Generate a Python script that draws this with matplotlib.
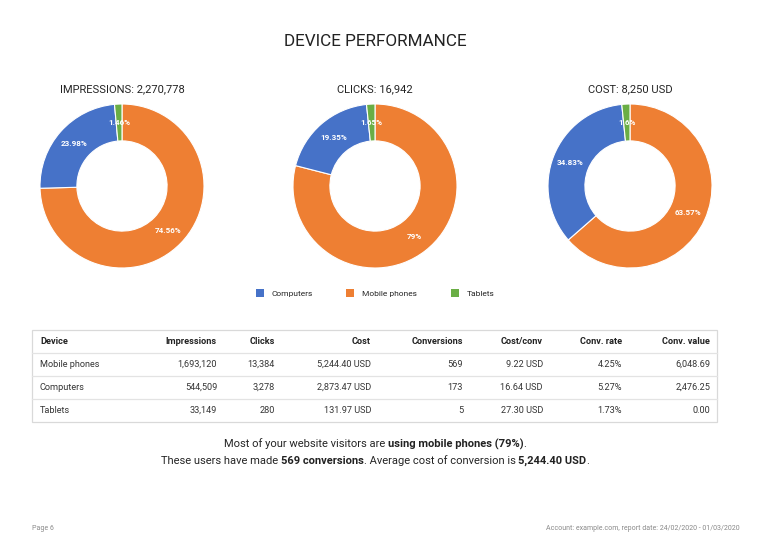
import matplotlib
matplotlib.use("Agg")
from matplotlib import pyplot as plt
from matplotlib import font_manager as fm
from matplotlib.patches import Patch, Rectangle

# use the static Roboto files (the variable one measures text badly)
fm.fontManager.ttflist = [f for f in fm.fontManager.ttflist if 'Roboto[' not in f.fname]
plt.rcParams['font.family'] = ['Roboto', 'DejaVu Sans']

devices = ['Mobile phones', 'Computers', 'Tablets']
impressions = [1693120, 544509, 33149]
clicks = [13384, 3278, 280]
cost = [5244.40, 2873.47, 131.97]
conversions = [569, 173, 5]
cost_per_conv = [9.22, 16.64, 27.30]
conv_rate = [4.25, 5.27, 1.73]
conv_value = [6048.69, 2476.25, 0.00]

colors = {'Mobile phones': '#ee7f33', 'Computers': '#4672c8', 'Tablets': '#6aae45'}
legend_order = ['Computers', 'Mobile phones', 'Tablets']

W, H = 768, 545
CX = 375
fig = plt.figure(figsize=(W / 100, H / 100), dpi=100)
fig.patch.set_facecolor('white')

# background axes in pixel coordinates for texts and the table
bg = fig.add_axes([0, 0, 1, 1], zorder=0)
bg.set_xlim(0, W)
bg.set_ylim(H, 0)
bg.axis('off')

bg.text(CX, 42, 'DEVICE PERFORMANCE', fontsize=12.3, ha='center', va='center', color='#222222')


def fmt_pct(p):
    return f"{p:.2f}".rstrip('0').rstrip('.') + '%'


donuts = [
    ('IMPRESSIONS: ' + f"{sum(impressions):,}", impressions, 122),
    ('CLICKS: ' + f"{sum(clicks):,}", clicks, 375),
    ('COST: ' + f"{round(sum(cost)):,} USD", cost, 630),
]
cy = 186
r = 82
for title, vals, cx in donuts:
    ax = fig.add_axes([(cx - r) / W, 1 - (cy + r) / H, 2 * r / W, 2 * r / H], zorder=2)
    ax.pie(vals, colors=[colors[d] for d in devices], startangle=90, counterclock=False,
           radius=1, wedgeprops=dict(width=0.45, edgecolor='white', linewidth=0.8),
           autopct=lambda p: fmt_pct(p), pctdistance=0.78,
           textprops=dict(color='white', fontsize=5.8, fontweight='bold'))
    ax.set_xlim(-1.0, 1.0)
    ax.set_ylim(-1.0, 1.0)
    ax.set_aspect('equal')
    bg.text(cx, 89, title, fontsize=8, ha='center', va='center', color='#222222')

handles = [Patch(facecolor=colors[d], edgecolor='none', label=d) for d in legend_order]
fig.legend(handles=handles, loc='center', bbox_to_anchor=(CX / W, 1 - 293 / H), ncol=3,
           frameon=False, fontsize=6.0, handlelength=0.96, handleheight=0.96,
           columnspacing=4.0, handletextpad=0.96, labelcolor='#222222')

# table
top, bottom, left, right = 330, 422, 32, 717
row_h = (bottom - top) / 4
bg.add_patch(Rectangle((left, top), right - left, bottom - top, fill=False,
                       edgecolor='#d9d9d9', linewidth=0.9))
for i in range(1, 4):
    bg.plot([left, right], [top + i * row_h] * 2, color='#e3e3e3', linewidth=0.9)

headers = ['Device', 'Impressions', 'Clicks', 'Cost', 'Conversions', 'Cost/conv', 'Conv. rate', 'Conv. value']
col_x = [40, 217, 275, 371, 463, 543, 622, 710]
rows = []
for i, d in enumerate(devices):
    rows.append([d, f"{impressions[i]:,}", f"{clicks[i]:,}", f"{cost[i]:,.2f} USD",
                 f"{conversions[i]:,}", f"{cost_per_conv[i]:.2f} USD",
                 f"{conv_rate[i]:.2f}%", f"{conv_value[i]:,.2f}"])

for j, h in enumerate(headers):
    bg.text(col_x[j], top + row_h / 2, h, fontsize=6.6, fontweight='bold',
            ha='left' if j == 0 else 'right', va='center', color='#222222')
for i, row in enumerate(rows):
    for j, cell in enumerate(row):
        bg.text(col_x[j], top + (i + 1.5) * row_h, cell, fontsize=6.6,
                ha='left' if j == 0 else 'right', va='center', color='#333333')

# summary text with bold parts
renderer = fig.canvas.get_renderer()


def text_width(s, size, weight):
    t = bg.text(0, 0, s, fontsize=size, fontweight=weight)
    w = t.get_window_extent(renderer).width
    t.remove()
    return w


def rich_line(y, parts, size=8):
    space = text_width('a a', size, 'normal') - text_width('aa', size, 'normal')
    items = []
    for s, w, gap in parts:
        adv = text_width(s + '|', size, w) - text_width('|', size, w)
        t = bg.text(0, y, s, fontsize=size, fontweight=w, va='center', ha='left', color='#222222')
        items.append((t, adv, gap))
    total = sum(wd for _, wd, _ in items) + sum(space for _, _, g in items if g)
    x = CX - total / 2
    for t, wd, gap in items:
        t.set_x(x)
        x += wd + (space if gap else 0)


rich_line(444, [('Most of your website visitors are', 'normal', True),
                ('using mobile phones (79%)', 'bold', False),
                ('.', 'normal', False)])
rich_line(461, [('These users have made', 'normal', True),
                (f"{conversions[0]} conversions", 'bold', False),
                ('. Average cost of conversion is', 'normal', True),
                (f"{cost[0]:,.2f} USD", 'bold', False),
                ('.', 'normal', False)])

bg.text(32, 528, 'Page 6', fontsize=5.0, color='#888888', va='center', ha='left')
bg.text(740, 528, 'Account: example.com, report date: 24/02/2020 - 01/03/2020', fontsize=5.0,
        color='#888888', va='center', ha='right')

fig.savefig('out.png', dpi=100, facecolor='white')
